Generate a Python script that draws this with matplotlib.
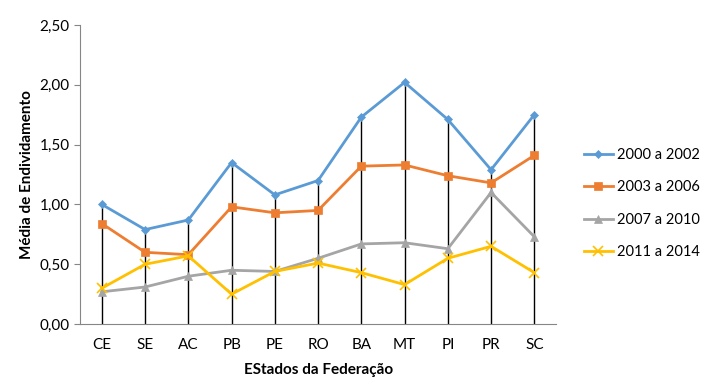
import numpy as np
import matplotlib
matplotlib.use("Agg")
from matplotlib import pyplot as plt

plt.rcParams['font.family'] = ['Lato', 'DejaVu Sans']

estados = ['CE', 'SE', 'AC', 'PB', 'PE', 'RO', 'BA', 'MT', 'PI', 'PR', 'SC']
s2000 = [1.00, 0.79, 0.87, 1.35, 1.08, 1.20, 1.73, 2.02, 1.71, 1.29, 1.75]
s2003 = [0.84, 0.60, 0.58, 0.98, 0.93, 0.95, 1.32, 1.33, 1.24, 1.18, 1.41]
s2007 = [0.27, 0.31, 0.40, 0.45, 0.44, 0.55, 0.67, 0.68, 0.63, 1.10, 0.73]
s2011 = [0.30, 0.50, 0.57, 0.25, 0.44, 0.51, 0.43, 0.33, 0.55, 0.65, 0.43]
nomes = ['2000 a 2002', '2003 a 2006', '2007 a 2010', '2011 a 2014']

fig = plt.figure(figsize=(7.1, 3.84), dpi=100)
ax = fig.add_axes([0.113, 0.156, 0.670, 0.779])

x = np.arange(len(estados))
topo = np.max([s2000, s2003, s2007, s2011], axis=0)
ax.vlines(x, 0, topo, color='black', lw=1.0, zorder=1)

estilos = [('#5b9bd5', 'D', 4), ('#ed7d31', 's', 6), ('#a5a5a5', '^', 6), ('#ffc000', 'x', 7)]
for serie, nome, (cor, mk, ms) in zip([s2000, s2003, s2007, s2011], nomes, estilos):
    ax.plot(x, serie, color=cor, marker=mk, ms=ms, lw=2, label=nome, zorder=2,
            markeredgewidth=1.2 if mk == 'x' else 0.5)

ax.set_xlim(-0.5, len(estados) - 0.5)
ax.set_ylim(0, 2.5)
ax.set_yticks(np.arange(0, 2.51, 0.5))
ax.set_yticklabels([f'{v:.2f}'.replace('.', ',') for v in np.arange(0, 2.51, 0.5)])
ax.set_xticks(x)
ax.set_xticklabels(estados)
ax.tick_params(axis='x', length=0, pad=10, labelsize=11)
ax.tick_params(axis='y', length=4, color='#868686', labelsize=11)

for lado in ['top', 'right']:
    ax.spines[lado].set_visible(False)
for lado in ['left', 'bottom']:
    ax.spines[lado].set_color('#868686')

ax.set_ylabel('Média de Endividamento', fontweight='bold', fontsize=11)
ax.set_xlabel('EStados da Federação', fontweight='bold', fontsize=11, labelpad=8)

fig.legend(loc='center left', bbox_to_anchor=(0.822, 0.47), frameon=False,
           fontsize=10.5, handlelength=2.0, handletextpad=0.3, labelspacing=1.25,
           borderpad=0, borderaxespad=0)

fig.savefig('out.png', dpi=100)
